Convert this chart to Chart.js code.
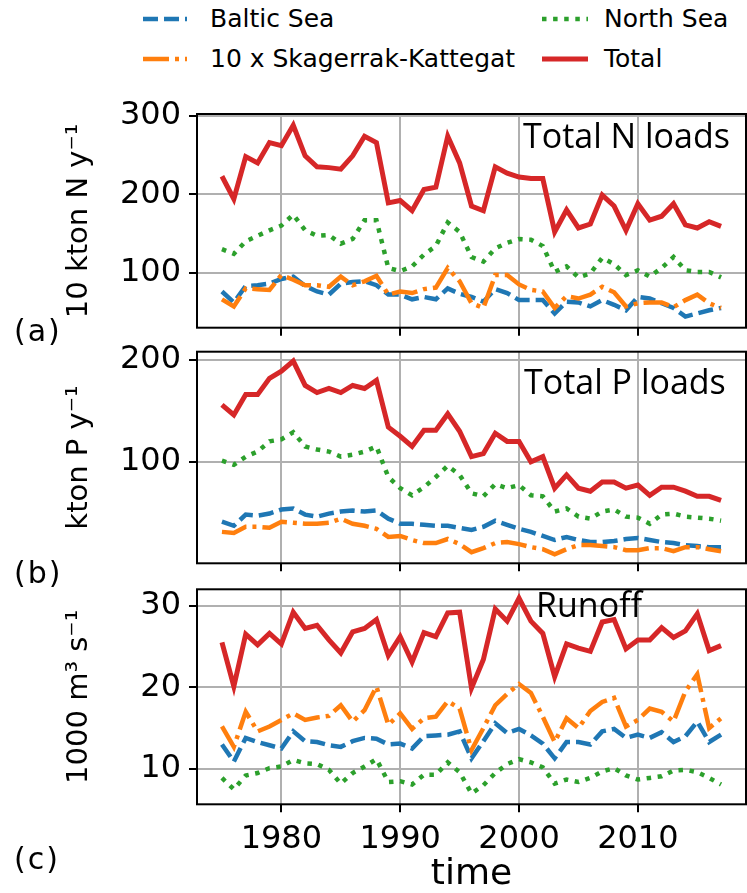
<!DOCTYPE html>
<html>
<head>
<meta charset="utf-8">
<script src="https://cdn.jsdelivr.net/npm/chart.js@4.4.1/dist/chart.umd.min.js"></script>
<style>
  body { margin: 0; background: #fff; }
  #page { position: relative; width: 747px; height: 893px; overflow: hidden; font-family: 'DejaVu Sans'; color: #000; }
  canvas { position: absolute; left: 0; }
  .lg { position: absolute; font-size: 25px; line-height: 25px; white-space: nowrap; }
  .pl { position: absolute; left: 14px; font-size: 30px; line-height: 30px; letter-spacing: 2px; }
</style>
</head>
<body>
<div id="page">
  <svg width="747" height="90" style="position:absolute;left:0;top:0">
    <line x1="143" y1="19" x2="187" y2="19" stroke="#1f77b4" stroke-width="4.5" stroke-dasharray="15 6"/>
    <line x1="143" y1="59" x2="187" y2="59" stroke="#ff7f0e" stroke-width="4.5" stroke-dasharray="26 6 4 6"/>
    <line x1="542" y1="19" x2="588" y2="19" stroke="#2ca02c" stroke-width="4.5" stroke-dasharray="4.5 6.6"/>
    <line x1="542" y1="59" x2="588" y2="59" stroke="#d62728" stroke-width="5"/>
  </svg>
  <div class="lg" style="left:210px;top:6px">Baltic Sea</div>
  <div class="lg" style="left:210px;top:46px">10 x Skagerrak-Kattegat</div>
  <div class="lg" style="left:604px;top:6px">North Sea</div>
  <div class="lg" style="left:604px;top:46px">Total</div>

  <canvas id="chartN" width="747" height="240" style="top:100px"></canvas>
  <canvas id="chartP" width="747" height="235" style="top:340px"></canvas>
  <canvas id="chartQ" width="747" height="318" style="top:575px"></canvas>

  <div class="pl" style="top:316px">(a)</div>
  <div class="pl" style="top:558px">(b)</div>
  <div class="pl" style="top:844px">(c)</div>
</div>

<script>
// years 1975-2017
const years = [1975, 1976, 1977, 1978, 1979, 1980, 1981, 1982, 1983, 1984,
               1985, 1986, 1987, 1988, 1989, 1990, 1991, 1992, 1993, 1994,
               1995, 1996, 1997, 1998, 1999, 2000, 2001, 2002, 2003, 2004,
               2005, 2006, 2007, 2008, 2009, 2010, 2011, 2012, 2013, 2014,
               2015, 2016, 2017];
const xTicks = [1980, 1990, 2000, 2010];

// (a) nitrogen loads, 10 kton N / y
const nBaltic = [76, 62, 83, 84, 86, 92, 95, 83, 76, 72, 86, 88, 89, 84, 72, 72, 66, 69, 66, 80,
                 73, 69, 63, 79, 74, 65, 65, 65, 48, 63, 62, 57, 65, 59, 52, 69, 67, 61, 55, 44, 48, 52, 55];
const nSkagerrak = [66, 57, 80, 79, 78, 97, 91, 84, 84, 82, 95, 84, 89, 96, 72, 76, 74, 79, 81, 106,
                    89, 61, 55, 97, 97, 85, 78, 76, 55, 70, 67, 72, 82, 75, 57, 61, 62, 62, 56, 65, 72, 61, 55];
const nNorth = [130, 124, 140, 147, 154, 160, 174, 154, 147, 148, 137, 143, 167, 167, 106, 102, 108, 123, 134, 164,
                152, 120, 114, 131, 138, 143, 142, 134, 101, 108, 94, 99, 119, 111, 97, 103, 95, 106, 120, 103, 101, 101, 94];
const nTotal = [223, 194, 248, 240, 266, 262, 288, 249, 235, 234, 232, 249, 274, 266, 189, 192, 179, 206, 209, 274,
                240, 185, 179, 235, 227, 222, 220, 220, 152, 180, 157, 162, 199, 185, 154, 188, 167, 172, 188, 161, 157, 165, 159];
const nTicks = [100, 200, 300];

// (b) phosphorus loads, kton P / y
const pBaltic = [41, 37, 48, 47, 49, 53, 54, 48, 46, 49, 51, 52, 51, 52, 44, 39, 39, 38, 37, 37,
                 35, 33, 36, 42, 38, 34, 31, 27, 23, 26, 23, 21, 21, 22, 24, 25, 23, 21, 20, 18, 17, 16, 16];
const pSkagerrak = [31, 30, 36, 36, 35, 41, 40, 39, 39, 40, 44, 39, 37, 34, 26, 27, 23, 20, 20, 24,
                    19, 11, 15, 20, 21, 19, 16, 14, 9, 14, 18, 18, 17, 16, 13, 13, 15, 15, 12, 16, 16, 14, 12];
const pNorth = [101, 97, 105, 110, 120, 122, 129, 115, 112, 110, 105, 107, 110, 115, 85, 74, 67, 75, 85, 96,
                87, 69, 66, 78, 74, 77, 67, 66, 51, 54, 46, 44, 51, 53, 46, 45, 39, 48, 49, 46, 45, 44, 42];
const pTotal = [156, 146, 166, 166, 182, 189, 199, 175, 168, 172, 168, 175, 172, 180, 134, 125, 115, 131, 131, 147,
                130, 105, 108, 128, 120, 120, 100, 105, 74, 87, 74, 71, 80, 80, 74, 77, 67, 75, 75, 71, 66, 66, 62];
const pTicks = [100, 200];

// (c) runoff, 1000 m3/s
const qBaltic = [13.0, 10.9, 13.8, 13.3, 12.9, 12.5, 14.6, 13.4, 13.3, 12.9, 12.7, 13.4, 13.8, 13.7, 13.0, 13.1, 12.5, 14.0, 14.1, 14.2,
                 14.6, 11.3, 13.4, 15.6, 14.4, 14.9, 14.1, 13.1, 11.3, 13.3, 13.3, 13.0, 14.6, 14.9, 13.8, 14.2, 13.8, 14.5, 13.3, 14.0, 15.8, 13.3, 14.2];
const qSkagerrak = [15.2, 12.7, 17.0, 14.6, 15.2, 16.0, 16.8, 16.0, 16.3, 16.5, 17.8, 15.8, 17.2, 20.1, 15.4, 16.8, 14.9, 16.2, 16.4, 18.3,
                    17.4, 12.3, 15.0, 17.8, 19.2, 20.4, 19.3, 16.4, 13.3, 16.2, 15.0, 17.1, 18.2, 18.7, 15.2, 16.0, 17.4, 17.0, 15.8, 19.5, 21.6, 15.0, 16.2];
const qNorth = [8.9, 7.5, 9.2, 9.5, 10.1, 10.3, 11.1, 10.7, 10.6, 9.9, 8.2, 9.5, 10.3, 11.2, 8.4, 8.5, 8.1, 9.3, 9.3, 10.8,
                9.6, 7.0, 8.0, 9.5, 10.6, 11.2, 10.8, 10.2, 8.2, 8.7, 8.4, 8.9, 9.7, 10.1, 9.2, 8.7, 8.9, 9.1, 9.8, 9.9, 9.6, 8.9, 8.1];
const qTotal = [25.5, 20.1, 26.5, 25.2, 26.6, 25.3, 29.2, 27.2, 27.6, 25.8, 24.2, 26.8, 27.2, 28.3, 23.9, 26.2, 23.1, 26.7, 26.2, 29.1,
                29.2, 19.9, 23.4, 29.6, 28.1, 30.9, 28.1, 26.6, 21.3, 25.3, 24.8, 24.4, 28.0, 28.3, 24.7, 25.8, 25.8, 27.3, 26.1, 26.9, 29.0, 24.5, 25.1];
const qTicks = [10, 20, 30];

const FONT = 'DejaVu Sans';

// black box round the plot area + panel caption
const frame = {
  id: 'frame',
  afterDraw(chart) {
    const ctx = chart.ctx, a = chart.chartArea;
    const note = chart.options.plugins.frame;
    ctx.save();
    ctx.fillStyle = '#000';
    ctx.font = '34px "Open Sans"';
    ctx.textBaseline = 'alphabetic';
    ctx.fillText(note.text, a.left + note.dx, a.top + note.base);
    ctx.strokeStyle = '#000';
    ctx.lineWidth = 2;
    ctx.strokeRect(a.left, a.top, a.right - a.left, a.bottom - a.top);
    ctx.restore();
  }
};

function series(label, values, color, dash, width, order) {
  return {
    label: label,
    data: years.map((y, i) => ({x: y, y: values[i]})),
    borderColor: color,
    borderDash: dash,
    borderWidth: width,
    pointRadius: 0,
    fill: false,
    order: order
  };
}

function panel(id, baltic, skagerrak, north, total, yMin, yMax, yTicks, yTitle, note, showX, padTop, xH) {
  return new Chart(document.getElementById(id), {
    type: 'line',
    data: {
      datasets: [
        series('Baltic Sea', baltic, '#1f77b4', [15, 6], 4.5, 3),
        series('10 x Skagerrak-Kattegat', skagerrak, '#ff7f0e', [26, 6, 4, 6], 4.5, 2),
        series('North Sea', north, '#2ca02c', [4.5, 6.6], 4.5, 1),
        series('Total', total, '#d62728', [], 5, 0)
      ]
    },
    options: {
      responsive: false,
      animation: false,
      devicePixelRatio: 1,
      layout: {padding: {top: padTop, left: 0, right: 1, bottom: 0}},
      plugins: {legend: {display: false}, tooltip: {enabled: false}, frame: note},
      scales: {
        x: {
          type: 'linear', min: 1972.9, max: 2019.1,
          afterBuildTicks: s => { s.ticks = xTicks.map(v => ({value: v})); },
          afterFit: s => { s.height = xH; s.paddingLeft = 0; s.paddingRight = 0; },
          border: {display: false},
          grid: {color: '#b0b0b0', lineWidth: 2, tickColor: '#000', tickLength: 8, tickWidth: 2},
          ticks: {display: showX, color: '#000', maxRotation: 0, padding: 8,
                  callback: v => String(v),
                  font: {family: FONT, size: 32, lineHeight: 1.2}},
          title: {display: showX, text: 'time', color: '#000', padding: {top: 0, bottom: 0},
                  font: {family: FONT, size: 36, lineHeight: 1}}
        },
        y: {
          min: yMin, max: yMax,
          afterBuildTicks: s => { s.ticks = yTicks.map(v => ({value: v})); },
          afterFit: s => { s.width = 197; s.paddingTop = 0; s.paddingBottom = 0; },
          border: {display: false},
          grid: {color: '#b0b0b0', lineWidth: 2, tickColor: '#000', tickLength: 8, tickWidth: 2},
          ticks: {color: '#000', padding: 8, font: {family: FONT, size: 32}},
          title: {display: true, text: yTitle, color: '#000', padding: {top: 62, bottom: 0},
                  font: {family: FONT, size: 29, lineHeight: 1.2}}
        }
      }
    },
    plugins: [frame]
  });
}

panel('chartN', nBaltic, nSkagerrak, nNorth, nTotal, 29.8, 302.4, nTicks,
      '10 kton N y\u207B\u00B9', {text: 'Total N loads', dx: 326, base: 34}, false, 14, 12.3);
panel('chartP', pBaltic, pSkagerrak, pNorth, pTotal, 0.1, 208.2, pTicks,
      'kton P y\u207B\u00B9', {text: 'Total P loads', dx: 327, base: 42.6}, false, 11.7, 11.7);
panel('chartQ', qBaltic, qSkagerrak, qNorth, qTotal, 5.67, 32.0, qTicks,
      '1000 m\u00B3 s\u207B\u00B9', {text: 'Runoff', dx: 339, base: 27.4}, true, 14.3, 88.7);
</script>
</body>
</html>
